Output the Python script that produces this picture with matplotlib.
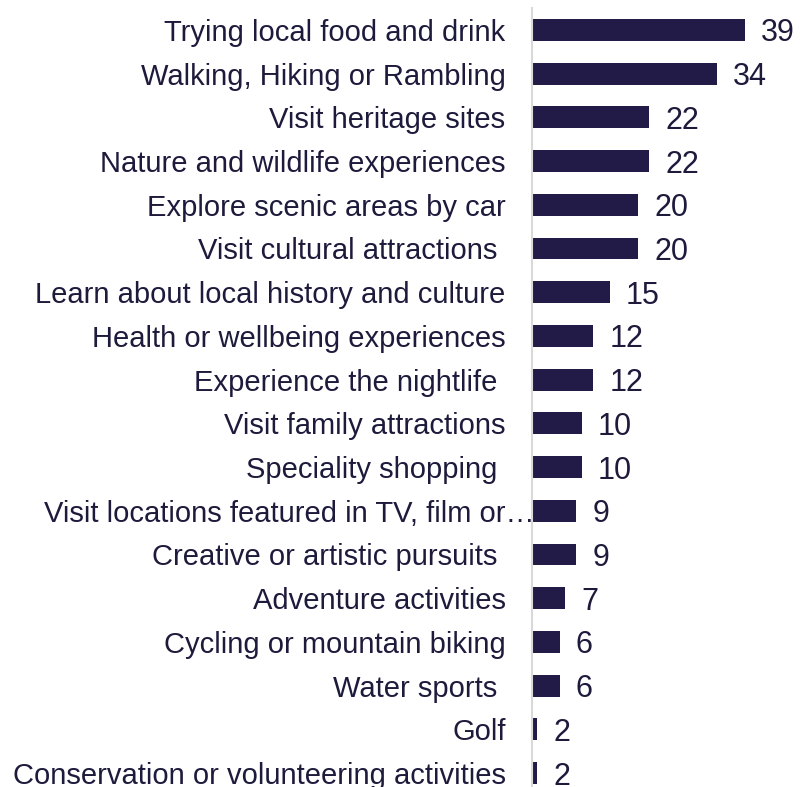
import matplotlib.pyplot as plt
from matplotlib.transforms import ScaledTranslation

plt.rcParams['font.family'] = ['Liberation Sans', 'DejaVu Sans']

activities = [
    "Trying local food and drink",
    "Walking, Hiking or Rambling",
    "Visit heritage sites",
    "Nature and wildlife experiences",
    "Explore scenic areas by car",
    "Visit cultural attractions ",
    "Learn about local history and culture",
    "Health or wellbeing experiences",
    "Experience the nightlife ",
    "Visit family attractions",
    "Speciality shopping ",
    "Visit locations featured in TV, film or\u2026",
    "Creative or artistic pursuits ",
    "Adventure activities",
    "Cycling or mountain biking",
    "Water sports ",
    "Golf",
    "Conservation or volunteering activities",
]
shares = [39, 34, 22, 22, 20, 20, 15, 12, 12, 10, 10, 9, 9, 7, 6, 6, 2, 2]

BAR = "#221b47"
TEXT = "#1e1a3c"

fig = plt.figure(figsize=(8.0, 7.87), dpi=100)
ax = fig.add_axes([0.665, 0.0, 0.335, 779 / 787])

pos = list(range(len(activities)))
bars = ax.barh(pos, shares, height=0.5, color=BAR)
ax.set_ylim(17.32, -0.5)
# value axis does not start at zero
ax.set_xlim(1.1, 48.8)

ax.set_yticks(pos)
ax.set_yticklabels(activities, fontsize=21, color=TEXT)
ax.tick_params(axis="y", length=0, pad=19)
ax.set_xticks([])

# the long label spills past the axis like the spreadsheet original
long_lbl = ax.get_yticklabels()[11]
long_lbl.set_transform(long_lbl.get_transform()
                       + ScaledTranslation(0.29, 0, fig.dpi_scale_trans))

for side in ("top", "right", "bottom"):
    ax.spines[side].set_visible(False)
ax.spines["left"].set_color("#d9d9d9")
ax.spines["left"].set_linewidth(1.5)
ax.spines["left"].set_zorder(3)

vals = ax.bar_label(bars, labels=[str(v) for v in shares], padding=11.5,
                    fontsize=22, color=TEXT)
for t in vals:
    t.set_va("center_baseline")

fig.savefig("out.png", dpi=100)
